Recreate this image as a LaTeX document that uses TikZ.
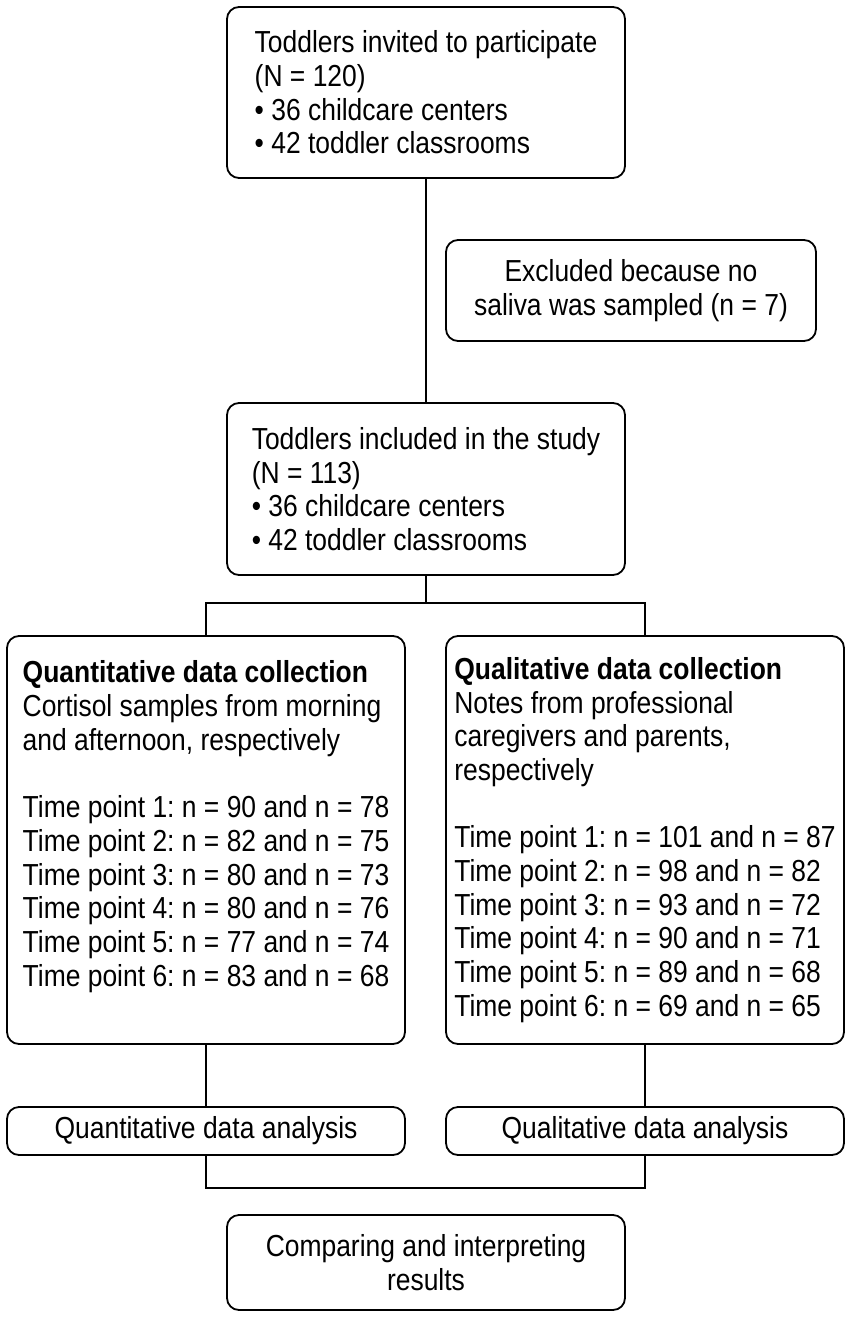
\documentclass[tikz,border=0pt]{standalone}
\usepackage{fontspec}
\setmainfont{Liberation Sans}[FakeStretch=0.87]
\usepackage{tikz}
\tikzset{
    blk/.style={draw, line width=1.8pt, rounded corners=12pt, inner sep=4pt,
        font=\fontsize{30.4}{33.7}\selectfont\frenchspacing},
    wire/.style={line width=1.4pt}
}

\begin{document}
\begin{tikzpicture}[x=1pt, y=-1pt]
        \useasboundingbox (0,0) rectangle (851,1321);
        \node[blk, align=left, minimum width=398pt, minimum height=171pt] (invited) at (426,92.5)
            {Toddlers invited to participate\\(N = 120)\\\textbullet{} 36 childcare centers\\\textbullet{} 42 toddler classrooms};
        \node[blk, align=center, minimum width=370pt, minimum height=101pt] (excl) at (631,290.5)
            {Excluded because no\\saliva was sampled (n = 7)};
        \node[blk, align=left, minimum width=398pt, minimum height=172pt] (incl) at (426,489)
            {Toddlers included in the study\\(N = 113)\\\textbullet{} 36 childcare centers\\\textbullet{} 42 toddler classrooms};
        \node[blk, align=left, minimum width=398pt, minimum height=408pt] (quant) at (206,840)
            {\textbf{Quantitative data collection}\\Cortisol samples from morning\\and afternoon, respectively\\[33.7pt]
            Time point 1: n = 90 and n = 78\\Time point 2: n = 82 and n = 75\\Time point 3: n = 80 and n = 73\\
            Time point 4: n = 80 and n = 76\\Time point 5: n = 77 and n = 74\\Time point 6: n = 83 and n = 68\rule[-33pt]{0pt}{33pt}};
        \node[blk, align=left, minimum width=398pt, minimum height=408pt] (qual) at (645,840)
            {\textbf{Qualitative data collection}\\Notes from professional\\caregivers and parents,\\respectively\\[33.7pt]
            Time point 1: n = 101 and n = 87\\Time point 2: n = 98 and n = 82\\Time point 3: n = 93 and n = 72\\
            Time point 4: n = 90 and n = 71\\Time point 5: n = 89 and n = 68\\Time point 6: n = 69 and n = 65};
        \node[blk, minimum width=398pt, minimum height=48pt] (qtana) at (206,1131) {Quantitative data analysis};
        \node[blk, minimum width=398pt, minimum height=48pt] (qlana) at (645,1131) {Qualitative data analysis};
        \node[blk, align=center, minimum width=398pt, minimum height=95pt] (comp) at (426,1262.5)
            {Comparing and interpreting\\results};
        \coordinate (br) at (426,603);
        \coordinate (jn) at (426,1188);
        \draw[wire] (invited) -- (incl);
        \draw[wire] (incl) -- (br);
        \draw[wire] (quant.north) |- (br) -| (qual.north); % split into the two strands
        \draw[wire] (quant) -- (qtana);
        \draw[wire] (qual) -- (qlana);
        \draw[wire] (qtana.south) |- (jn) -| (qlana.south);
    \end{tikzpicture}
\end{document}
